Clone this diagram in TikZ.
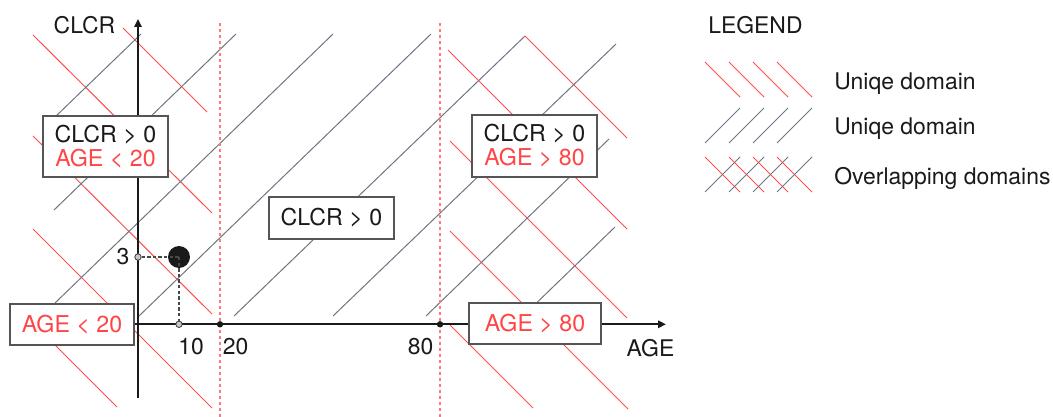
\documentclass[tikz,border=0pt]{standalone}
\usepackage{fontspec}
\setmainfont{TeX Gyre Heros}
\usetikzlibrary{arrows.meta}
\definecolor{hatchred}{HTML}{FF4D4D}
\definecolor{hatchgrey}{HTML}{6E7582}
\definecolor{limitred}{HTML}{FF7A7A}
\definecolor{labelred}{HTML}{FF4646}
\definecolor{boxgrey}{HTML}{555555}
\definecolor{ink}{HTML}{1A1A1A}
\begin{document}
\begin{tikzpicture}[x=0.75pt,y=-0.75pt,
  redhatch/.style={hatchred,line width=0.75pt},
  greyhatch/.style={hatchgrey,line width=0.75pt},
  limit/.style={limitred,line width=0.9pt,dash pattern=on 2.25pt off 2.25pt},
  axis/.style={ink,line width=1.5pt,-{Triangle[length=6pt,width=5.5pt]}},
  guide/.style={ink!80,line width=0.9pt,dash pattern=on 2.6pt off 1.6pt},
  lbl/.style={ink,inner sep=0pt,font=\fontsize{17.2}{18}\selectfont},
  domainbox/.style={draw=boxgrey,fill=white,line width=1pt,align=center,
    inner sep=0pt,text=ink,font=\fontsize{17.4}{18}\selectfont},
  bigdot/.style={circle,fill=ink,inner sep=0pt,minimum size=16.5pt},
  tickdot/.style={circle,fill=ink,inner sep=0pt,minimum size=4.8pt},
  opendot/.style={circle,draw=ink!85,fill=black!22,line width=0.6pt,inner sep=0pt,minimum size=4.8pt},
]
\useasboundingbox (0,0) rectangle (1053,417);

% hatching of the AGE < 20 and AGE > 80 domains
\foreach \a/\b/\c/\d in {33/35/212/213, 123/28/207/112, 33/136/212/314,
    33/229/212/408, 33/323/117/407,
    448/50/627/229, 525/36/627/138, 450/141/627/318, 450/231/628/409, 450/325/533/408}
  \draw[redhatch] (\a,\b) -- (\c,\d);

% hatching of the CLCR > 0 domain
\foreach \a/\b/\c/\d in {54/118/141/34, 54/210/236/34, 55/303/333/34,
    139/316/431/34, 234/316/525/36, 333/316/616/44, 426/316/609/139, 523/316/615/227}
  \draw[greyhatch] (\a,\b) -- (\c,\d);

% age limits
\coordinate (l20top) at (220,23.5);
\coordinate (l20bot) at (220,417);
\coordinate (l80top) at (440,23.5);
\coordinate (l80bot) at (440,417);
\draw[limit] (l20top) -- (l20bot);
\draw[limit] (l80top) -- (l80bot);

% axes
\coordinate (ybot) at (138,398);
\coordinate (ytop) at (138,19);
\coordinate (xleft) at (120,324.3);
\coordinate (xright) at (666,324.3);
\draw[axis] (ybot) -- (ytop);
\draw[axis] (xleft) -- (xright);

\node[lbl,anchor=base] (ylab) at (84.5,33.3) {CLCR};
\node[lbl,anchor=base] (xlab) at (650.5,356.7) {AGE};
\node[lbl,anchor=base] (n3) at (123,264) {3};
\node[lbl,anchor=base] (n10) at (191,354) {10};
\node[lbl,anchor=base] (n20) at (235.5,354) {20};
\node[lbl,anchor=base] (n80) at (420.5,354) {80};

% domain boxes
\node[domainbox,minimum width=93.75pt,minimum height=45.75pt] (young) at (105.5,146.5)
  {CLCR > 0\\\textcolor{labelred}{AGE < 20}};
\node[domainbox,minimum width=93.75pt,minimum height=31.5pt] (adult) at (331.5,218)
  {CLCR > 0};
\node[domainbox,minimum width=93.75pt,minimum height=46.5pt] (old) at (534.5,146)
  {CLCR > 0\\\textcolor{labelred}{AGE > 80}};
\node[domainbox,minimum width=93pt,minimum height=30.75pt,text=labelred] (youngaxis) at (72,324.5)
  {AGE < 20};
\node[domainbox,minimum width=99pt,minimum height=30.75pt,text=labelred] (oldaxis) at (535,323.5)
  {AGE > 80};

% sample point
\node[tickdot] (t20) at (220,324.3) {};
\node[tickdot] (t80) at (440,324.3) {};
\node[bigdot] (pt) at (179,257) {};
\node[opendot] (t10) at (179,324.3) {};
\node[opendot] (t3) at (138,257) {};
\draw[guide] (t3) -- (pt.center);
\draw[guide] (pt.center) -- (t10);

% legend
\node[lbl,anchor=base west] (legtitle) at (708,34) {LEGEND};
\foreach \k in {0,1,2,3} {
  \draw[redhatch] (705+24*\k,62) -- (740+24*\k,97);
  \draw[greyhatch] (705+24*\k,143) -- (740+24*\k,108);
  \draw[redhatch] (705+24*\k,157) -- (740+24*\k,192);
  \draw[greyhatch] (705+24*\k,192) -- (740+24*\k,157);
}
\node[lbl,anchor=base west] (leg1) at (834,89.3) {Uniqe domain};
\node[lbl,anchor=base west] (leg2) at (834,134.7) {Uniqe domain};
\node[lbl,anchor=base west] (leg3) at (834,184.5) {Overlapping domains};
\end{tikzpicture}
\end{document}
